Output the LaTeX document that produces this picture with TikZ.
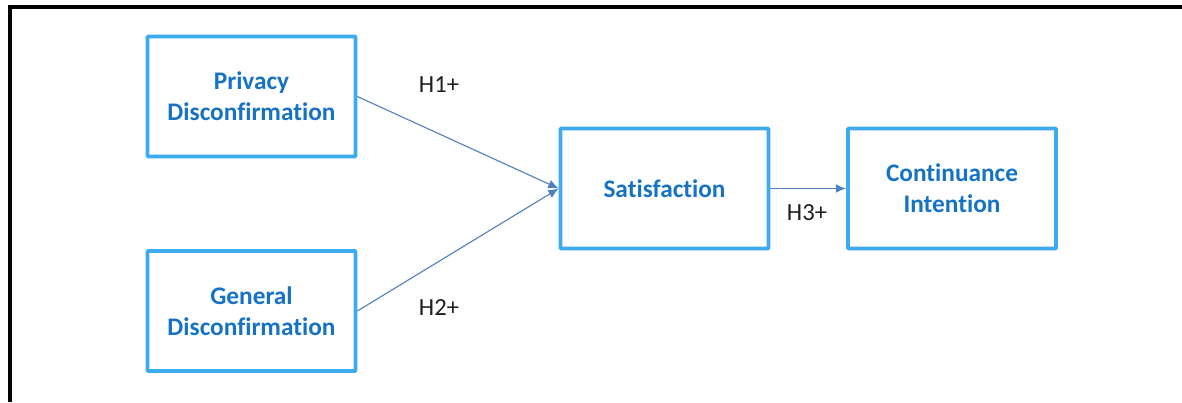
\documentclass[tikz,border=0pt]{standalone}
\usepackage{fontspec}
\setmainfont[Ligatures=NoCommon]{Carlito}
\usepackage{tikz}
\usetikzlibrary{arrows.meta,positioning,calc}
\definecolor{boxblue}{RGB}{61,171,240}
\definecolor{textblue}{RGB}{22,114,196}
\definecolor{arrowblue}{RGB}{79,129,189}
\definecolor{labelgray}{RGB}{30,30,30}

\begin{document}
\begin{tikzpicture}[x=0.025cm,y=-0.025cm,
        construct/.style={draw=boxblue, line width=2.6pt, rounded corners=0.6pt,
            minimum width=5.2cm, minimum height=3.0cm, align=center,
            text=textblue, font=\fontsize{18}{22}\selectfont\bfseries},
        path/.style={draw=arrowblue, line width=0.8pt, -{Latex[length=2.6mm,width=2.2mm]}},
        hyp/.style={text=labelgray, font=\fontsize{17.5}{20}\selectfont}]
        \useasboundingbox (0,0) rectangle (1182,402);
        % Frame
        \draw[line width=2.3pt] (10,402) -- (10,7) -- (1182,7);
        % Constructs
        \node[construct] (priv) at (251.5,96.5) {Privacy\\Disconfirmation};
        \node[construct] (gen) at (251.5,311) {General\\Disconfirmation};
        \node[construct] (sat) at (664.5,188.5) {Satisfaction};
        \node[construct] (cont) at (952,188.5) {Continuance\\Intention};
        % Hypotheses
        \draw[path] (priv.east) -- (sat.west);
        \draw[path] (gen.east) -- (sat.west);
        \draw[path] (sat.east) -- (cont.west);
        \node[hyp] (h1) at (439,85) {H1+};
        \node[hyp] (h2) at (439,308) {H2+};
        \node[hyp] (h3) at (807,213) {H3+};
    \end{tikzpicture}
\end{document}
